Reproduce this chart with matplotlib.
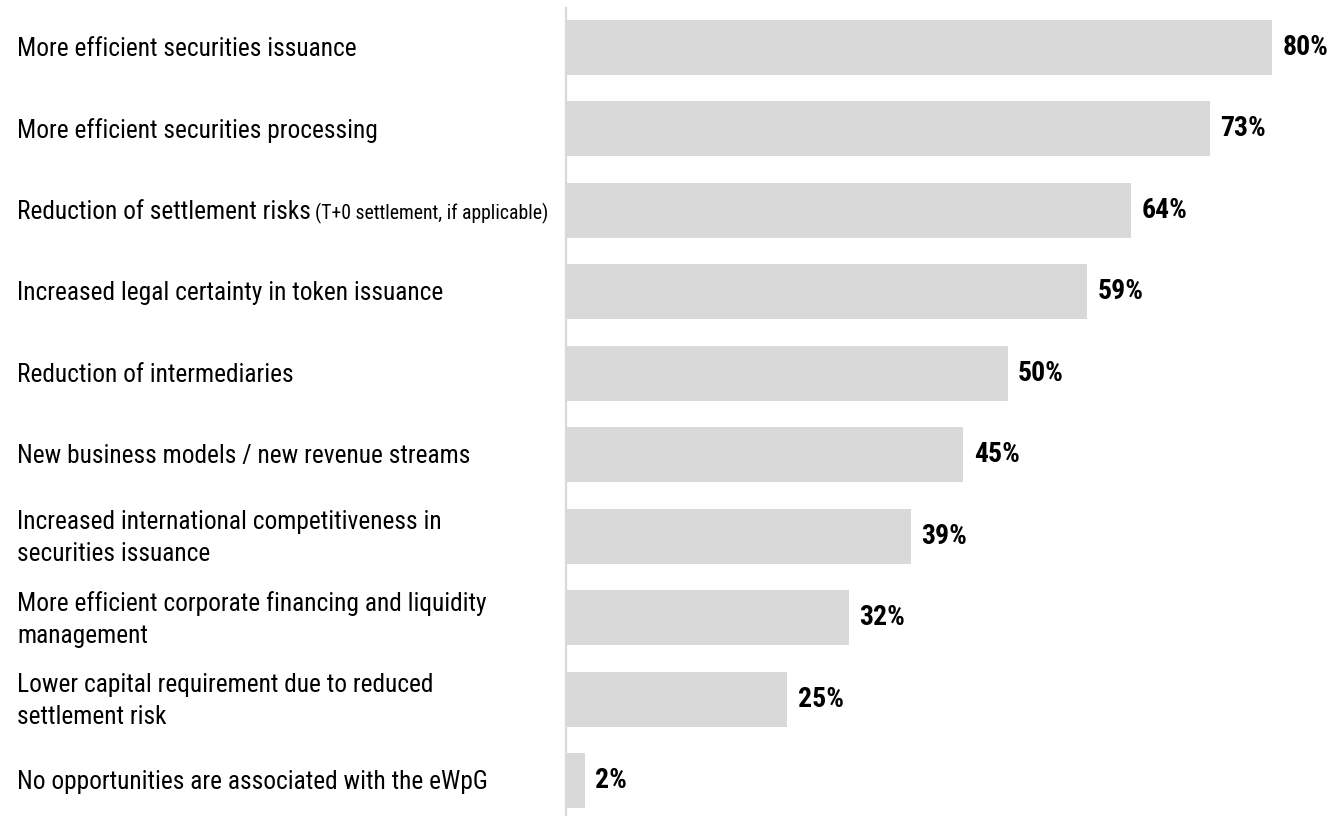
import matplotlib
matplotlib.use("Agg")
import matplotlib.pyplot as plt
from matplotlib import font_manager

# Survey results: opportunities associated with the eWpG
categories = [
    "More efficient securities issuance",
    "More efficient securities processing",
    "Reduction of settlement risks",
    "Increased legal certainty in token issuance",
    "Reduction of intermediaries",
    "New business models / new revenue streams",
    "Increased international competitiveness in\nsecurities issuance",
    "More efficient corporate financing and liquidity\nmanagement",
    "Lower capital requirement due to reduced\nsettlement risk",
    "No opportunities are associated with the eWpG",
]
notes = ["", "", "(T+0 settlement, if applicable)", "", "", "", "", "", "", ""]
values = [80, 73, 64, 59, 50, 45, 39, 32, 25, 2]
value_labels = ["80%", "73%", "64%", "59%", "50%", "45%", "39%", "32%", "25%", "2%"]

# pick a narrow grotesque face
installed = {f.name for f in font_manager.fontManager.ttflist}
narrow = next((n for n in ["Liberation Sans Narrow", "Arial Narrow", "Roboto Condensed",
                           "Archivo Narrow", "PT Sans Narrow"] if n in installed), "DejaVu Sans")
FONT = [narrow, "DejaVu Sans"]
BAR_COLOR = "#d9d9d9"

W, H, DPI = 1331, 816, 100
fig = plt.figure(figsize=(W / DPI, H / DPI), dpi=DPI)

# axes: zero line at x=567 px, spans to the right edge and the full height
x0 = 567
ax = fig.add_axes([x0 / W, 0, 1 - x0 / W, 1])
px_per_unit = 8.81
ax.set_xlim(0, (W - x0) / px_per_unit)
row_gap = 81.44
first_center = 47.5
ax.set_ylim((H - first_center) / row_gap, -first_center / row_gap)

ypos = list(range(len(categories)))
ax.barh(ypos, values, height=55 / row_gap, color=BAR_COLOR, edgecolor="none", zorder=2)

for sp in ["top", "right", "bottom"]:
    ax.spines[sp].set_visible(False)
ax.spines["left"].set_color(BAR_COLOR)
ax.spines["left"].set_linewidth(1.6)
ax.spines["left"].set_position(("outward", 1))
ax.spines["left"].set_bounds((8 - first_center) / row_gap, (H - first_center) / row_gap)
ax.set_xticks([])
ax.set_yticks([])
ax.patch.set_visible(False)

# category labels, left-aligned near the figure edge
lab_tr = matplotlib.transforms.blended_transform_factory(fig.transFigure, ax.transData)
for y, cat, note in zip(ypos, categories, notes):
    t = ax.text(17 / W, y + 0.02, cat, transform=lab_tr, ha="left", va="center",
                fontsize=18.3, family=FONT, color="#000000", linespacing=1.42)
    if note:
        ax.annotate(note, xy=(1, 0), xycoords=t, xytext=(3, 0), textcoords="offset points",
                    ha="left", va="bottom", fontsize=14.2, family=FONT, color="#000000")

# value labels at bar ends
for y, v, lab in zip(ypos, values, value_labels):
    ax.annotate(lab, xy=(v, y), xytext=(7.5, 0), textcoords="offset points",
                ha="left", va="center", fontsize=20, fontweight="bold",
                family=FONT, color="#000000")

fig.savefig("out.png", dpi=DPI)
